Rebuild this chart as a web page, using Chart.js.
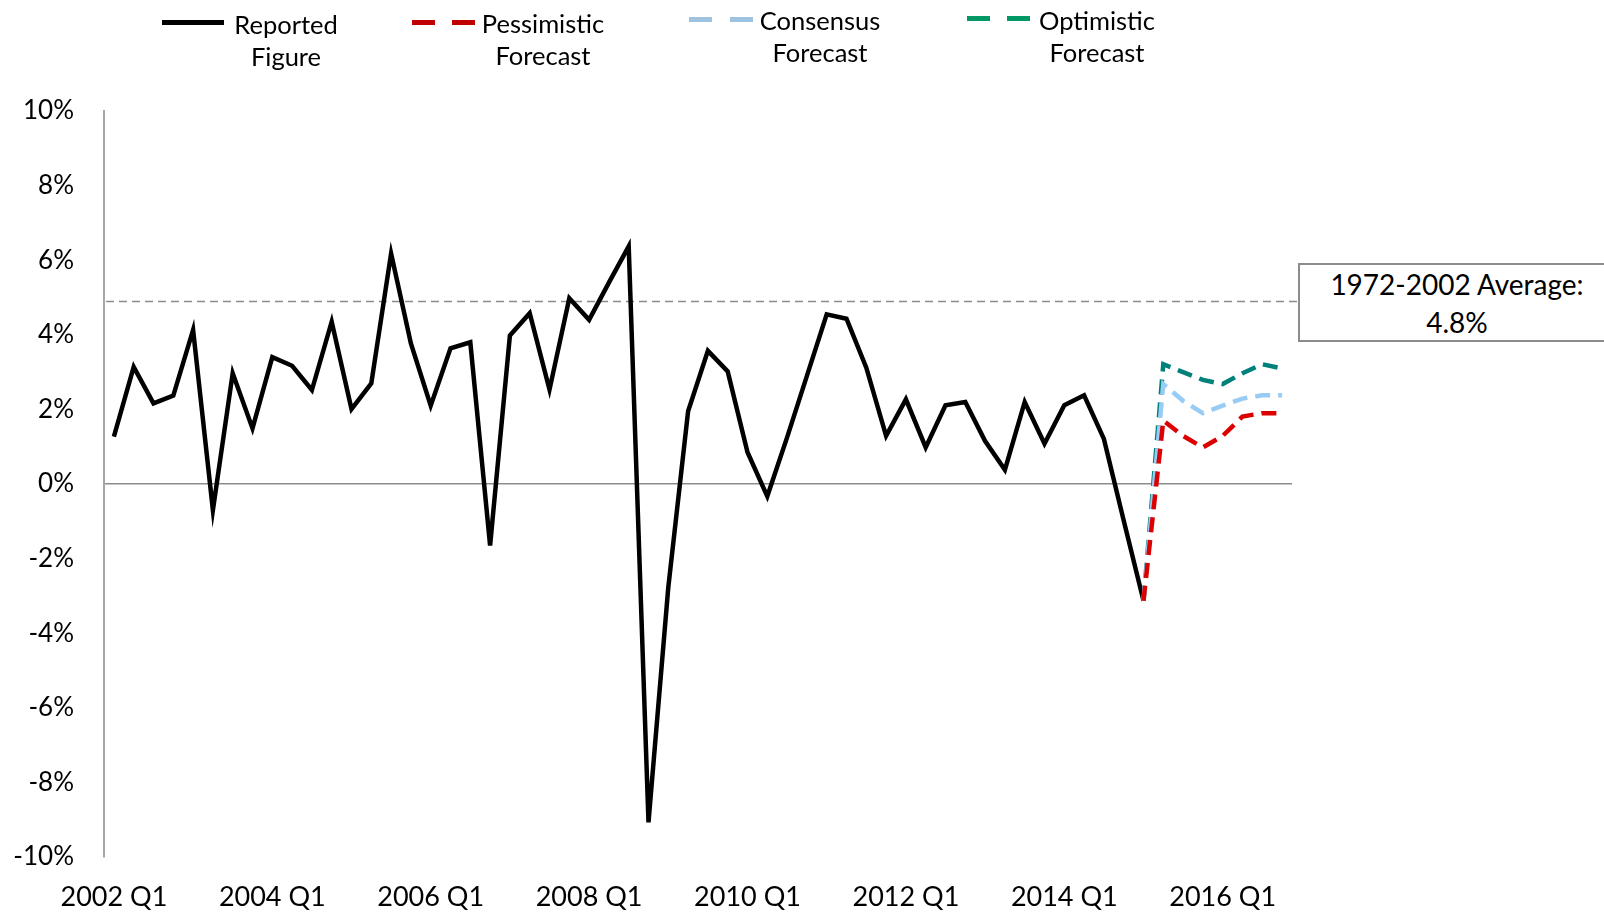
<!DOCTYPE html>
<html>
<head>
<meta charset="utf-8">
<script src="https://cdn.jsdelivr.net/npm/chart.js@4.4.1/dist/chart.umd.min.js"></script>
<style>
  body { margin: 0; background: #fff; }
  #wrap { position: relative; width: 1604px; height: 914px; overflow: hidden; font-family: Lato, "Noto Sans", sans-serif; color: #000; }
  #chart { position: absolute; left: 0; top: 0; }
  .legend-text { position: absolute; width: 200px; text-align: center; font-size: 25.5px; line-height: 32px; }
  .swatch { position: absolute; height: 5px; }
  #avgBox { position: absolute; left: 1298px; top: 263px; width: 314px; height: 75px; border: 2px solid #8c8c8c;
            text-align: center; font-size: 28px; line-height: 38px; background: #fff; }
</style>
</head>
<body>
<div id="wrap">
  <canvas id="chart" width="1604" height="914"></canvas>

  <!-- legend -->
  <div class="swatch" style="left:162px;top:20px;width:62px;background:#000;"></div>
  <div class="legend-text" style="left:186px;top:8px;">Reported<br>Figure</div>

  <div class="swatch" style="left:412px;top:20px;width:23px;background:#c00000;"></div>
  <div class="swatch" style="left:452px;top:20px;width:23px;background:#c00000;"></div>
  <div class="legend-text" style="left:443px;top:7px;">Pessimistic<br>Forecast</div>

  <div class="swatch" style="left:689px;top:17px;width:23px;background:#9dc3e0;"></div>
  <div class="swatch" style="left:730px;top:17px;width:23px;background:#9dc3e0;"></div>
  <div class="legend-text" style="left:720px;top:4px;">Consensus<br>Forecast</div>

  <div class="swatch" style="left:967px;top:16px;width:23px;background:#009966;"></div>
  <div class="swatch" style="left:1007px;top:16px;width:23px;background:#009966;"></div>
  <div class="legend-text" style="left:997px;top:4px;">Optimistic<br>Forecast</div>

  <div id="avgBox">1972-2002 Average:<br>4.8%</div>
</div>

<script>
// categories: quarters 2002 Q1 .. 2016 Q4
const years = [2002, 2003, 2004, 2005, 2006, 2007, 2008, 2009, 2010, 2011, 2012, 2013, 2014, 2015, 2016];
const quarterNames = ["Q1", "Q2", "Q3", "Q4"];
const quarters = [];
years.forEach((y) => quarterNames.forEach((q) => quarters.push(y + " " + q)));

// only every second Q1 is labelled
const xTickLabels = ["2002 Q1", "2004 Q1", "2006 Q1", "2008 Q1", "2010 Q1", "2012 Q1", "2014 Q1", "2016 Q1"];

// reported growth, 2002 Q1 .. 2015 Q1 (%)
const reported = [
  1.27, 3.14, 2.16, 2.37, 4.13, -0.70, 2.97, 1.49, 3.40, 3.17,
  2.52, 4.35, 2.01, 2.70, 6.18, 3.77, 2.10, 3.64, 3.80, -1.65,
  3.98, 4.58, 2.53, 4.98, 4.40, 5.40, 6.37, -9.07, -2.77, 1.95,
  3.57, 3.02, 0.85, -0.33, 1.25, 2.90, 4.55, 4.43, 3.12, 1.29,
  2.27, 0.98, 2.11, 2.20, 1.15, 0.38, 2.20, 1.08, 2.11, 2.38,
  1.21, -0.98, -3.13
];

// forecasts, 2015 Q1 .. 2016 Q4 (%)
const forecastQuarters = ["2015 Q1", "2015 Q2", "2015 Q3", "2015 Q4", "2016 Q1", "2016 Q2", "2016 Q3", "2016 Q4"];
const pessimistic = [-3.13, 1.70, 1.29, 0.98, 1.29, 1.81, 1.90, 1.90];
const consensus   = [-3.13, 2.68, 2.23, 1.90, 2.10, 2.29, 2.38, 2.38];
const optimistic  = [-3.13, 3.21, 3.00, 2.79, 2.68, 2.97, 3.21, 3.10];

const historicalAverage = 4.9; // dashed reference line (label reads 4.8%)

const yTicks = { min: -10, max: 10, step: 2 };

function toPoints(values) {
  return values.map((v, i) => ({ x: forecastQuarters[i], y: v }));
}

// dashed average line, drawn under the series
const averageLine = {
  id: "averageLine",
  beforeDatasetsDraw(chart) {
    const { ctx, chartArea, scales } = chart;
    const y = Math.round(scales.y.getPixelForValue(historicalAverage)) + 0.5;
    ctx.save();
    ctx.strokeStyle = "#8c8c8c";
    ctx.lineWidth = 1.5;
    ctx.setLineDash([8, 5]);
    ctx.beginPath();
    ctx.moveTo(chartArea.left + 2, y);
    ctx.lineTo(chartArea.right + 6, y);
    ctx.stroke();
    ctx.restore();
  },
};

const ctx = document.getElementById("chart").getContext("2d");
new Chart(ctx, {
  type: "line",
  data: {
    labels: quarters,
    datasets: [
      { label: "Pessimistic Forecast", data: toPoints(pessimistic), borderColor: "#dd0000", borderWidth: 4.5, borderDash: [15, 8], order: 0 },
      { label: "Consensus Forecast", data: toPoints(consensus), borderColor: "#99ccf5", borderWidth: 4.5, borderDash: [15, 8], order: 1 },
      { label: "Optimistic Forecast", data: toPoints(optimistic), borderColor: "#00807a", borderWidth: 4.5, borderDash: [15, 8], order: 2 },
      { label: "Reported Figure", data: reported, borderColor: "#000000", borderWidth: 4.5, order: 3 },
    ],
  },
  options: {
    responsive: false,
    devicePixelRatio: 1,
    animation: false,
    elements: {
      point: { radius: 0, hoverRadius: 0 },
      line: { tension: 0, fill: false, borderJoinStyle: "miter", borderCapStyle: "butt" },
    },
    layout: { padding: { top: 111, right: 312, left: 0, bottom: 0 } },
    plugins: {
      legend: { display: false },
      tooltip: { enabled: false },
    },
    scales: {
      x: {
        type: "category",
        offset: true,
        grid: { display: false, drawTicks: false },
        border: { display: false },
        ticks: {
          autoSkip: false,
          maxRotation: 0,
          padding: 24,
          color: "#000",
          font: { family: "Lato", size: 27 },
          callback: function (value, index) {
            const label = quarters[index];
            return xTickLabels.includes(label) ? label : "";
          },
        },
        afterFit: (scale) => { scale.height = 57; },
      },
      y: {
        min: yTicks.min,
        max: yTicks.max,
        grid: {
          drawTicks: false,
          color: (c) => (c.tick && c.tick.value === 0 ? "#8c8c8c" : "rgba(0,0,0,0)"),
          lineWidth: 1.5,
        },
        border: { display: true, color: "#a6a6a6", width: 2 },
        ticks: {
          stepSize: yTicks.step,
          padding: 30,
          color: "#000",
          font: { family: "Lato", size: 26 },
          callback: (v) => v + "%",
        },
        afterFit: (scale) => { scale.width = 104; },
      },
    },
  },
  plugins: [averageLine],
});
</script>
</body>
</html>
